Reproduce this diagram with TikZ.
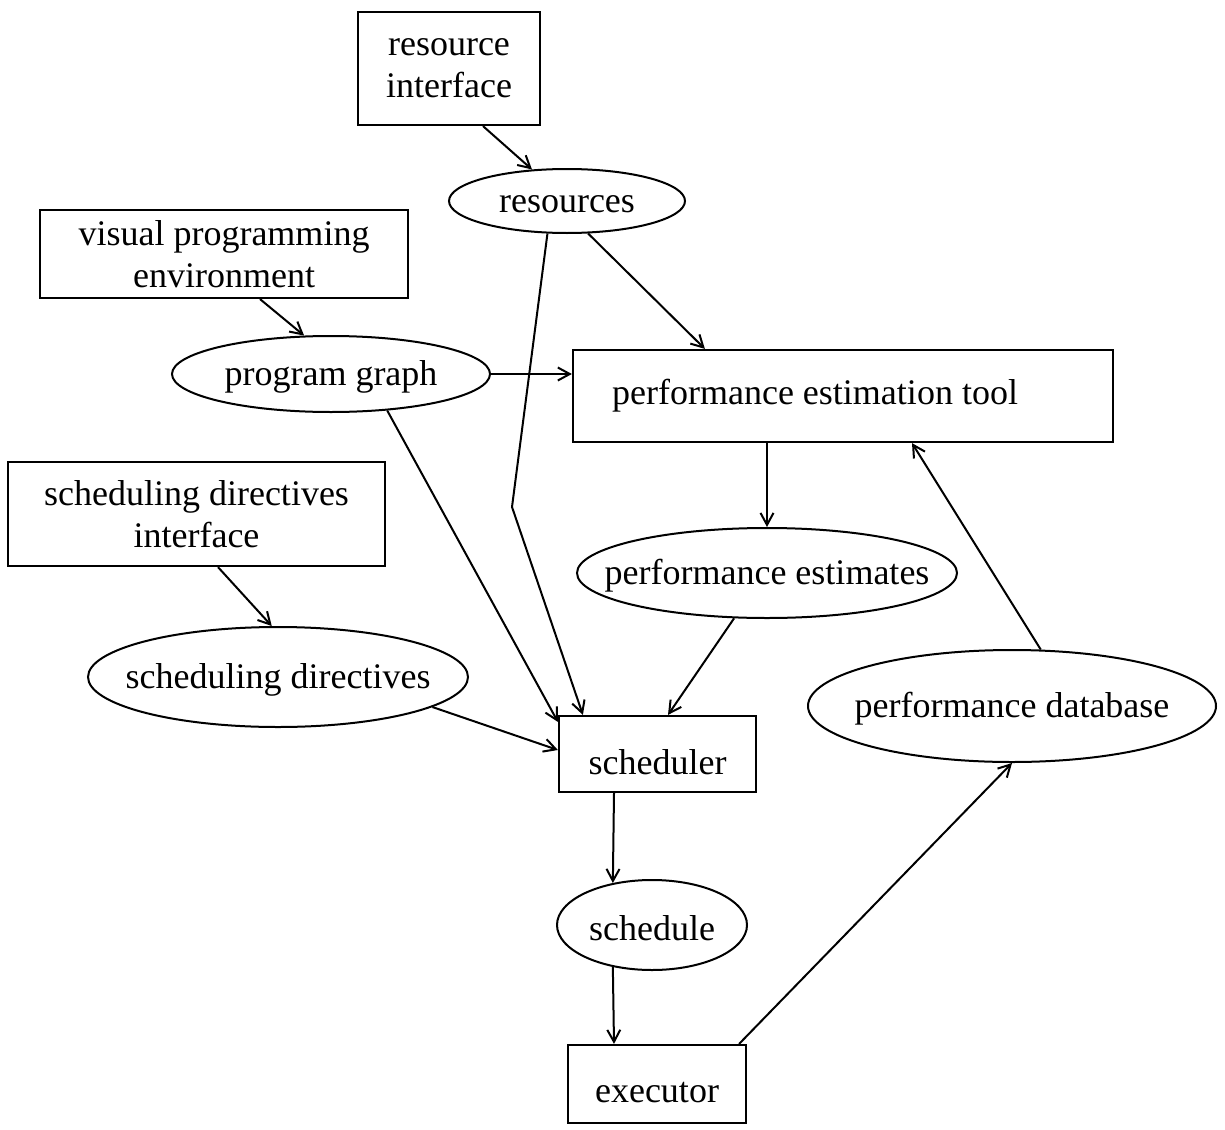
\documentclass[tikz,border=0pt]{standalone}
\usepackage{fontspec}
\setmainfont{Liberation Serif}
\usepackage{tikz}
\usetikzlibrary{arrows.meta,shapes,positioning}
\tikzstyle{arrow} = [line width=1pt,-{Straight Barb[length=6pt,width=6.5pt]}]
\tikzstyle{tool} = [rectangle, draw, line width=1.1pt, inner sep=0pt, align=center]
\tikzstyle{data} = [ellipse, draw, line width=1pt, inner sep=0pt]
\tikzset{every label/.style={yshift=-1.5pt}}

\begin{document}
\begin{tikzpicture}[x=0.5pt, y=-0.5pt, font=\fontsize{18pt}{21pt}\selectfont]
\useasboundingbox (0,0) rectangle (1225,1129);

% Interfaces
\node (ri) [tool, minimum width=91pt, minimum height=56.5pt] at (449,68.5) {resource\\interface};
\node (vpe) [tool, minimum width=184pt, minimum height=44pt] at (224,254) {visual programming\\environment};
\node (sdi) [tool, minimum width=188.5pt, minimum height=52pt] at (196.5,514) {scheduling directives\\interface};

% Data
\node (res) [data, minimum width=118pt, minimum height=32pt, label=center:resources] at (567,201) {};
\node (pg) [data, minimum width=159pt, minimum height=38pt, label=center:program graph] at (331,374) {};
\node (sd) [data, minimum width=190pt, minimum height=50pt, label=center:scheduling directives] at (278,677) {};
\node (pe) [data, minimum width=190pt, minimum height=45pt, label=center:performance estimates] at (767,573) {};
\node (pdb) [data, minimum width=204pt, minimum height=56pt, label=center:performance database] at (1012,706) {};
\node (sch) [data, minimum width=95pt, minimum height=45pt, label=center:schedule] at (652,925) {};

% Tools
\node (pet) [tool, minimum width=270pt, minimum height=46pt] at (843,396) {performance estimation tool\hspace{28pt}};
\node (sched) [tool, minimum width=98.5pt, minimum height=38pt] at (657.5,754) {\raisebox{-4pt}[\height][\depth]{scheduler}};
\node (exe) [tool, minimum width=89pt, minimum height=39pt] at (657,1084) {\raisebox{-4.5pt}[\height][\depth]{executor}};

\coordinate (bend) at (512,507);

\draw[arrow] ([xshift=17pt]ri.south) -- (res.138);
\draw[arrow] ([xshift=18pt]vpe.south) -- (pg.125);
\draw[arrow] ([xshift=10.75pt]sdi.south) -- (sd.97);
\draw[arrow] (res.303) -- ([xshift=66.5pt]pet.north west);
\draw[arrow] (pg.east) -- (pg.east -| pet.west);
\draw[arrow] (pe.north |- pet.south) -- (pe.north);
\draw[arrow] (res.239) -- (bend) -- ([xshift=12.5pt]sched.north west);
\draw[arrow] (pg.327) -- ([yshift=-3.5pt]sched.north west);
\draw[arrow] (pe.234) -- ([xshift=5.25pt]sched.north);
\draw[arrow] (sd.349) -- ([yshift=2pt]sched.west);
\draw[arrow] ([xshift=-21.75pt]sched.south) -- (sch.133);
\draw[arrow] (sch.227) -- ([xshift=-21.5pt]exe.north);
\draw[arrow] ([xshift=-4pt]exe.north east) -- (pdb.south);
\draw[arrow] (pdb.63) -- ([xshift=34.5pt]pet.south);
\end{tikzpicture}
\end{document}
